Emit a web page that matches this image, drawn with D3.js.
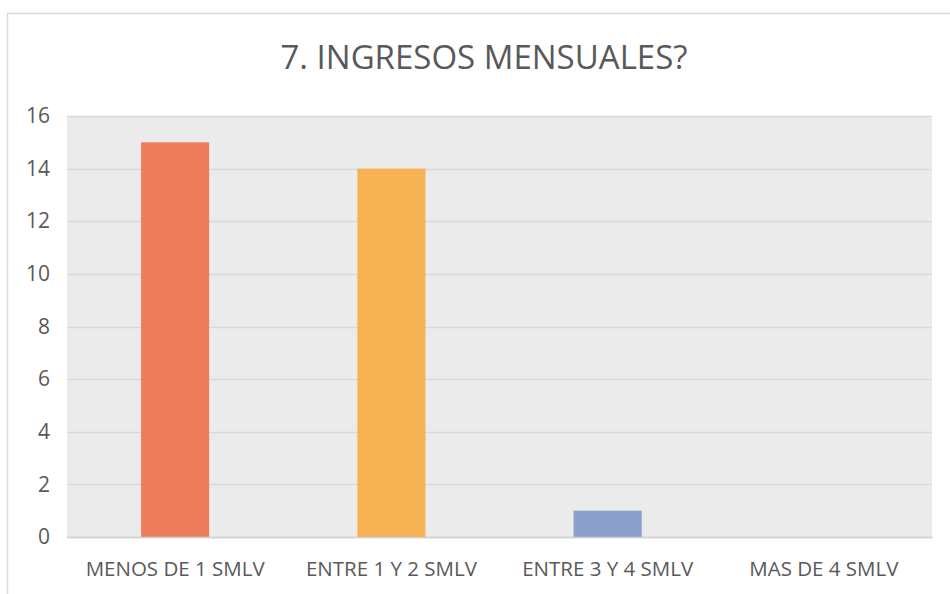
<!DOCTYPE html>
<html>
<head>
<meta charset="utf-8">
<script src="https://cdn.jsdelivr.net/npm/d3@7"></script>
<style>
  body { margin: 0; background: #fff; }
  svg { display: block; font-family: "Open Sans", "Noto Sans", sans-serif; }
</style>
</head>
<body>
<svg id="chart" width="950" height="594"></svg>
<script>
// datos del gráfico
const categories = ["MENOS DE 1 SMLV", "ENTRE 1 Y 2 SMLV", "ENTRE 3 Y 4 SMLV", "MAS DE 4 SMLV"];
const values = [15, 14, 1, 0];
const barColors = ["#ef7d5b", "#f6b253", "#8a9fca", "#a6d854"];
const yTicks = [0, 2, 4, 6, 8, 10, 12, 14, 16];
const title = "7. INGRESOS MENSUALES?";

const svg = d3.select("#chart");
const margin = { top: 116, right: 18, bottom: 57, left: 67 };
const width = 950, height = 594;
const font = '"Open Sans", "Noto Sans", sans-serif';

// marco exterior
svg.append("rect")
  .attr("x", 7.5).attr("y", 13.5)
  .attr("width", 960).attr("height", 600)
  .attr("fill", "none")
  .attr("stroke", "#d9d9d9")
  .attr("stroke-width", 1.5);

const x = d3.scaleBand()
  .domain(categories)
  .range([margin.left, width - margin.right])
  .paddingInner(0.685)
  .paddingOuter(0.3425);

const y = d3.scaleLinear()
  .domain([0, 16])
  .range([height - margin.bottom, margin.top]);

// fondo del área de trazado
svg.append("rect")
  .attr("x", margin.left)
  .attr("y", margin.top)
  .attr("width", width - margin.right - margin.left)
  .attr("height", height - margin.bottom - margin.top)
  .attr("fill", "#ebebeb");

// líneas de cuadrícula
svg.append("g")
  .selectAll("line")
  .data(yTicks)
  .join("line")
  .attr("x1", margin.left)
  .attr("x2", width - margin.right)
  .attr("y1", d => Math.round(y(d)) + 0.5)
  .attr("y2", d => Math.round(y(d)) + 0.5)
  .attr("stroke", "#d9d9d9")
  .attr("stroke-width", 1.5);

// barras
svg.append("g")
  .selectAll("rect")
  .data(values)
  .join("rect")
  .attr("x", (d, i) => x(categories[i]))
  .attr("y", d => y(d))
  .attr("width", x.bandwidth())
  .attr("height", d => y(0) - y(d))
  .attr("fill", (d, i) => barColors[i]);

// eje x
const xAxis = svg.append("g")
  .attr("transform", `translate(0,${height - margin.bottom})`)
  .call(d3.axisBottom(x).tickSize(0).tickPadding(24))
  .attr("font-family", font);
xAxis.select(".domain").attr("stroke", "#d0d0d0").attr("stroke-width", 1.5);
xAxis.selectAll(".tick text")
  .attr("fill", "#595959")
  .style("font-size", "20.5px");

// eje y
const yAxis = svg.append("g")
  .attr("transform", `translate(${margin.left},0)`)
  .call(d3.axisLeft(y).tickValues(yTicks).tickSize(0).tickPadding(17))
  .attr("font-family", font);
yAxis.select(".domain").remove();
yAxis.selectAll(".tick text")
  .attr("fill", "#595959")
  .style("font-size", "21px");

// título
svg.append("text")
  .attr("x", 484)
  .attr("y", 69)
  .attr("text-anchor", "middle")
  .attr("fill", "#595959")
  .style("font-size", "33px")
  .text(title);
</script>
</body>
</html>
